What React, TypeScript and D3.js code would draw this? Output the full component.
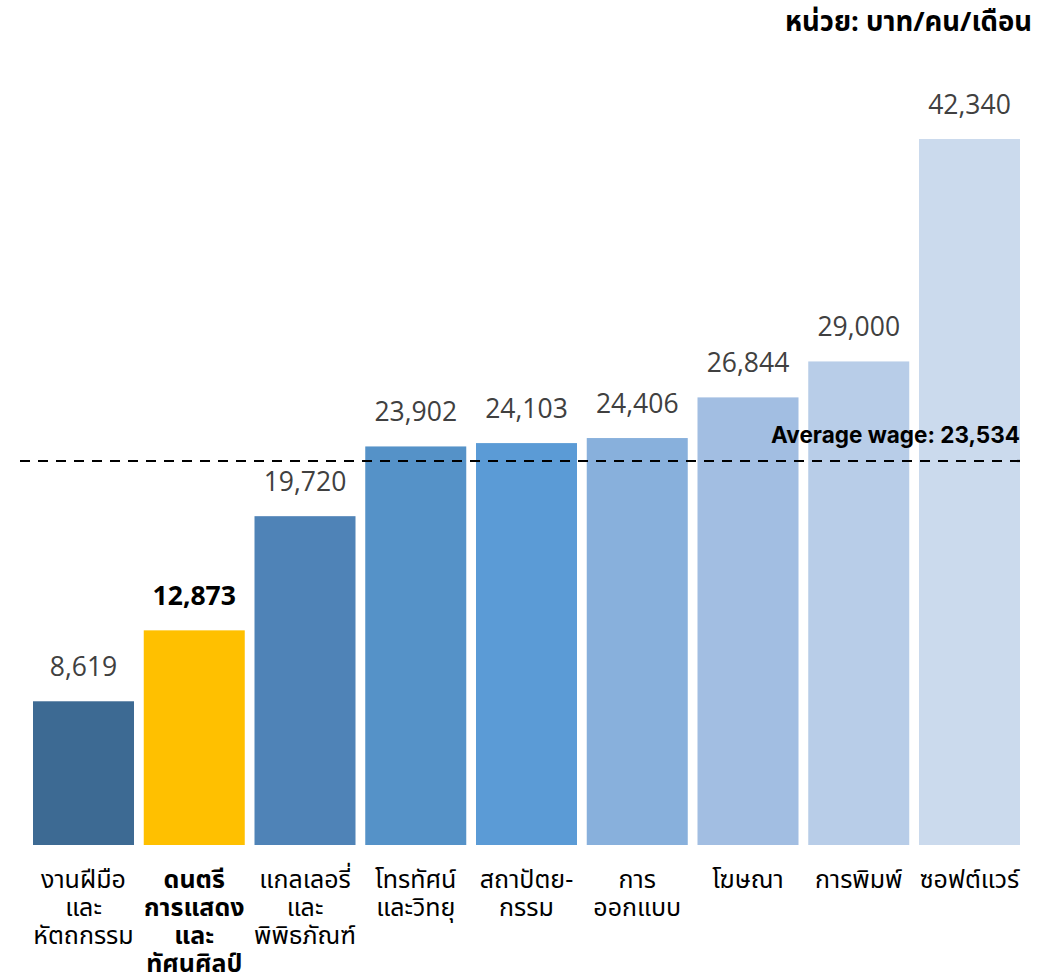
import React from "react";
import * as d3 from "d3";

const categories: string[][] = [
  ["งานฝีมือ", "และ", "หัตถกรรม"],
  ["ดนตรี", "การแสดง", "และ", "ทัศนศิลป์"],
  ["แกลเลอรี่", "และ", "พิพิธภัณฑ์"],
  ["โทรทัศน์", "และวิทยุ"],
  ["สถาปัตย-", "กรรม"],
  ["การ", "ออกแบบ"],
  ["โฆษณา"],
  ["การพิมพ์"],
  ["ซอฟต์แวร์"],
];
const wages: number[] = [8619, 12873, 19720, 23902, 24103, 24406, 26844, 29000, 42340];
const barColors: string[] = [
  "#3d6a93", "#ffc000", "#4f83b7", "#5592c8", "#5b9bd6",
  "#88b0dc", "#a2bee2", "#b8cde8", "#cbdaed",
];
const highlightIndex = 1;
const averageWage = 23534;
const averageLineLevel = 23030;
const unitTitle = "หน่วย: บาท/คน/เดือน";

const W = 1054;
const H = 973;
const baseY = 845;
const topY = 139;
const left = 33;
const right = 1020;

export default function App() {
  const x = d3
    .scaleBand<number>()
    .domain(wages.map((_, i) => i))
    .range([left, right])
    .paddingInner(0.088)
    .paddingOuter(0);
  const maxV = d3.max(wages) as number;
  const y = d3.scaleLinear().domain([0, maxV]).range([baseY, topY]);
  const fmt = d3.format(",");
  const thai = "'Noto Sans Thai', 'Noto Sans', 'DejaVu Sans', sans-serif";
  const num = "'Open Sans', 'Noto Sans', sans-serif";
  const avgY = y(averageLineLevel);

  return (
    <svg
      width={W}
      height={H}
      style={{ position: "absolute", left: 0, top: 0, background: "#fff" }}
    >
      <text
        x={1032}
        y={31}
        textAnchor="end"
        fontFamily={thai}
        fontWeight="bold"
        fontSize={27.5}
        fill="#000"
      >
        {unitTitle}
      </text>
      {wages.map((v, i) => (
        <rect
          key={"b" + i}
          x={x(i)}
          y={y(v)}
          width={x.bandwidth()}
          height={baseY - y(v)}
          fill={barColors[i]}
        />
      ))}
      {wages.map((v, i) => (
        <text
          key={"v" + i}
          x={(x(i) as number) + x.bandwidth() / 2}
          y={y(v) - 25}
          textAnchor="middle"
          fontFamily={num}
          fontSize={26.5}
          fontWeight={i === highlightIndex ? "bold" : "normal"}
          fill={i === highlightIndex ? "#000" : "#404040"}
        >
          {fmt(v)}
        </text>
      ))}
      <line
        x1={20}
        x2={right}
        y1={avgY}
        y2={avgY}
        stroke="#000"
        strokeWidth={2.2}
        strokeDasharray="10 8"
      />
      <text
        x={right}
        y={avgY - 18}
        textAnchor="end"
        fontFamily={"Inter, 'Noto Sans', sans-serif"}
        fontWeight="bold"
        fontSize={22.5}
        fill="#000"
      >
        {"Average wage: " + fmt(averageWage)}
      </text>
      {categories.map((lines, i) => (
        <text
          key={"c" + i}
          textAnchor="middle"
          fontFamily={thai}
          fontSize={25}
          fontWeight={i === highlightIndex ? "bold" : "normal"}
          fill="#000"
        >
          {lines.map((ln, j) => (
            <tspan
              key={j}
              x={(x(i) as number) + x.bandwidth() / 2}
              y={888 + j * 28}
            >
              {ln}
            </tspan>
          ))}
        </text>
      ))}
    </svg>
  );
}
